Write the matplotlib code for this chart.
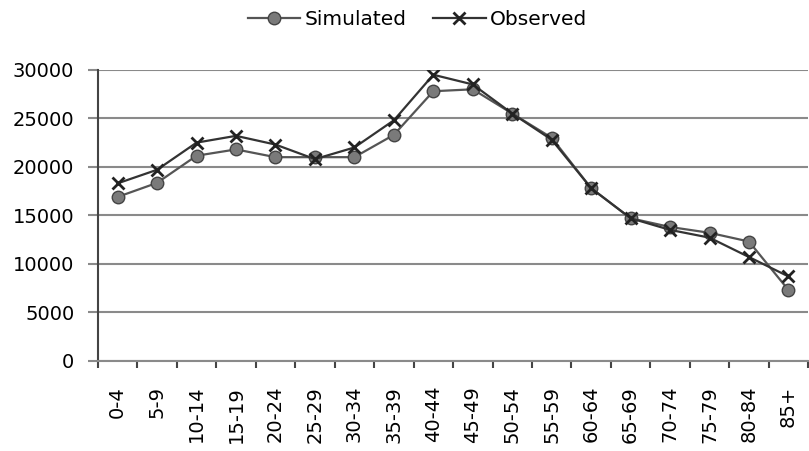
import matplotlib
matplotlib.use("Agg")
import matplotlib.pyplot as plt
from matplotlib.ticker import FixedLocator, NullFormatter

plt.rcParams['font.family'] = ['DejaVu Sans']

categories = ["0-4", "5-9", "10-14", "15-19", "20-24", "25-29", "30-34", "35-39",
              "40-44", "45-49", "50-54", "55-59", "60-64", "65-69", "70-74",
              "75-79", "80-84", "85+"]
simulated = [16900, 18350, 21150, 21800, 21000, 21000, 21000, 23300, 27800,
             28000, 25500, 23000, 17800, 14700, 13800, 13200, 12300, 7300]
observed = [18300, 19700, 22500, 23200, 22300, 20800, 22000, 24800, 29500,
            28500, 25500, 22800, 17800, 14700, 13500, 12700, 10700, 8700]
yticks = [0, 5000, 10000, 15000, 20000, 25000, 30000]

fig = plt.figure(figsize=(8.09, 4.51), dpi=100)
ax = fig.add_axes([0.121, 0.2, 0.878, 0.645])

x = list(range(len(categories)))
ax.plot(x, simulated, color='#555555', lw=1.6, marker='o', ms=9,
        mfc='#7a7a7a', mec='#444444', mew=1, label='Simulated', zorder=3)
ax.plot(x, observed, color='#333333', lw=1.6, marker='x', ms=9,
        mec='#222222', mew=2, label='Observed', zorder=4)

ax.set_xlim(-0.5, len(categories) - 0.5)
ax.set_ylim(0, 30000)
ax.set_yticks(yticks)
ax.set_yticklabels([str(v) for v in yticks], fontsize=14)
ax.yaxis.grid(True, color='#8a8a8a', lw=1.5)
ax.set_axisbelow(True)
ax.tick_params(axis='y', length=7, width=1.5, color='#8a8a8a', direction='out', pad=10)

ax.set_xticks(x)
ax.set_xticklabels(categories, rotation=90, fontsize=14)
ax.tick_params(axis='x', which='major', length=0, pad=18)
ax.xaxis.set_minor_locator(FixedLocator([i - 0.5 for i in range(len(categories) + 1)]))
ax.xaxis.set_minor_formatter(NullFormatter())
ax.tick_params(axis='x', which='minor', length=5, width=1.5, color='#444444', direction='out')

for s in ['top', 'right']:
    ax.spines[s].set_visible(False)
ax.spines['left'].set_color('#444444')
ax.spines['left'].set_linewidth(1.5)
ax.spines['bottom'].set_color('#8a8a8a')
ax.spines['bottom'].set_linewidth(1.5)

fig.legend(loc='center', bbox_to_anchor=(0.516, 0.956), ncol=2, frameon=False,
           fontsize=14.5, handlelength=2.6, columnspacing=1.34, handletextpad=0.2,
           borderpad=0, borderaxespad=0)

fig.savefig("out.png", dpi=100)
